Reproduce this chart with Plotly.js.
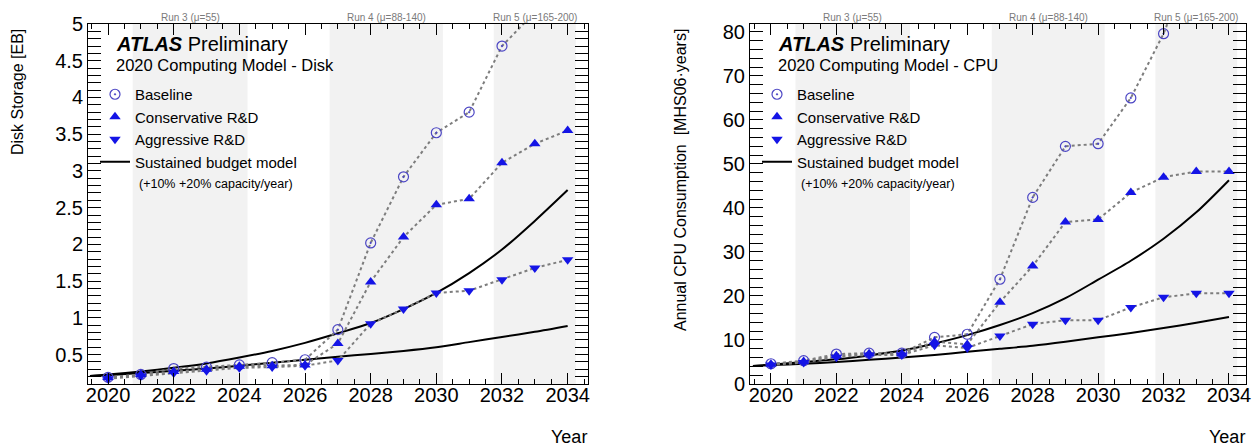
<!DOCTYPE html>
<html>
<head>
<meta charset="utf-8">
<script src="https://cdn.plot.ly/plotly-3.0.1.min.js"></script>
<style>
  html, body { margin: 0; padding: 0; background: #ffffff; }
  #chart { width: 1256px; height: 448px; }
</style>
</head>
<body>
<div id="chart"></div>
<script>
// ---------------- data ----------------
const years = [2020, 2021, 2022, 2023, 2024, 2025, 2026, 2027, 2028, 2029, 2030, 2031, 2032, 2033, 2034];

const diskBaseline     = [0.19, 0.23, 0.31, 0.33, 0.36, 0.39, 0.43, 0.84, 2.02, 2.92, 3.52, 3.80, 4.70, 5.16, 5.60];
const diskConservative = [0.19, 0.23, 0.27, 0.30, 0.34, 0.35, 0.36, 0.65, 1.49, 2.10, 2.54, 2.62, 3.11, 3.37, 3.55];
const diskAggressive   = [0.17, 0.21, 0.25, 0.28, 0.32, 0.33, 0.35, 0.42, 0.92, 1.12, 1.34, 1.37, 1.52, 1.68, 1.79];

const cpuBaseline      = [4.6, 5.3, 6.8, 7.0, 7.0, 10.6, 11.3, 23.8, 42.4, 54.0, 54.6, 65.0, 79.6, 100, 118];
const cpuConservative  = [4.5, 5.1, 6.4, 6.9, 6.9, 9.6, 9.0, 18.6, 26.8, 36.8, 37.4, 43.5, 47.0, 48.3, 48.3];
const cpuAggressive    = [4.3, 4.9, 6.1, 6.6, 6.6, 8.8, 8.2, 10.9, 13.6, 14.5, 14.5, 17.4, 19.7, 20.6, 20.6];

const budgetYears  = [2019.45, 2020, 2021, 2022, 2023, 2024, 2025, 2026, 2027, 2028, 2029, 2030, 2031, 2032, 2033, 2034];
const diskBudget10 = [0.21, 0.22, 0.25, 0.28, 0.31, 0.35, 0.39, 0.43, 0.47, 0.51, 0.55, 0.60, 0.67, 0.74, 0.81, 0.89];
const diskBudget20 = [0.21, 0.23, 0.27, 0.32, 0.38, 0.46, 0.55, 0.66, 0.79, 0.93, 1.12, 1.34, 1.61, 1.93, 2.32, 2.74];
const cpuBudget10  = [4.1, 4.3, 4.6, 5.0, 5.5, 6.0, 6.6, 7.3, 8.0, 8.7, 9.6, 10.6, 11.6, 12.7, 13.9, 15.2];
const cpuBudget20  = [4.1, 4.4, 5.0, 5.6, 6.5, 7.6, 9.2, 11.1, 13.4, 16.1, 19.5, 23.7, 28.0, 33.0, 39.0, 46.3];

const runLabels = ['Run 3 (\u03bc=55)', 'Run 4 (\u03bc=88-140)', 'Run 5 (\u03bc=165-200)'];
const runStart  = [2020.75, 2026.75, 2031.75];
const runEnd    = [2024.25, 2030.2, 2034.25];

const seriesNames = ['Baseline', 'Conservative R&D', 'Aggressive R&D', 'Sustained budget model'];
const budgetNote  = '(+10% +20% capacity/year)';
const panelSubtitles = ['2020 Computing Model - Disk', '2020 Computing Model - CPU'];
const yTitles = ['Disk Storage [EB]', 'Annual CPU Consumption  [MHS06\u00b7years]'];
const xTitle = 'Year';

// ---------------- styling ----------------
const W = 1256, H = 448;
const FONT = 'Liberation Sans, Arial, Helvetica, sans-serif';
const px = v => v / W;
const py = v => 1 - v / H;

const panels = [
  { xa: 'x', ya: 'y', xl: 'x3', left: 88, right: 588, xr: [2019.39, 2034.62], yr: [0.1, 5.0], ydt: 0.5, ymdt: 0.1,
    data: [diskBaseline, diskConservative, diskAggressive], budget: [diskBudget10, diskBudget20], legend: 'legend' },
  { xa: 'x2', ya: 'y2', xl: 'x4', left: 750, right: 1246, xr: [2019.36, 2034.52], yr: [0, 81.8], ydt: 10, ymdt: 2,
    data: [cpuBaseline, cpuConservative, cpuAggressive], budget: [cpuBudget10, cpuBudget20], legend: 'legend2' }
];
const plotTop = 24, plotBottom = 384;

const markerStyles = [
  { symbol: 'circle-open-dot', size: 10, color: '#4b45c4', line: { width: 1.2, color: '#4b45c4' } },
  { symbol: 'triangle-up', size: 10, color: '#1414e6', line: { width: 0 } },
  { symbol: 'triangle-down', size: 10, color: '#1414e6', line: { width: 0 } }
];

const traces = [];
const shapes = [];
const annotations = [];
const layout = {
  width: W, height: H,
  margin: { l: 0, r: 0, t: 0, b: 0 },
  paper_bgcolor: '#ffffff', plot_bgcolor: 'rgba(0,0,0,0)',
  font: { family: FONT, color: '#000' },
  showlegend: true
};

panels.forEach((p, i) => {
  const sfx = i === 0 ? '' : '2';
  const lsfx = p.xl.slice(1);
  // budget curves
  p.budget.forEach((b, k) => {
    traces.push({
      x: budgetYears, y: b, xaxis: p.xa, yaxis: p.ya, type: 'scatter', mode: 'lines',
      line: { color: '#000', width: 2, shape: 'spline', smoothing: 0.8 },
      name: seriesNames[3], legend: p.legend,
      showlegend: k === 0, legendrank: 4, hoverinfo: 'skip'
    });
  });
  // dotted connectors
  p.data.forEach(d => {
    traces.push({
      x: years, y: d, xaxis: p.xa, yaxis: p.ya, type: 'scatter', mode: 'lines',
      line: { color: '#7d7d7d', width: 2, dash: 'dot' }, showlegend: false, hoverinfo: 'skip', cliponaxis: true
    });
  });
  // markers
  p.data.forEach((d, k) => {
    traces.push({
      x: years, y: d, xaxis: p.xa, yaxis: p.ya, type: 'scatter', mode: 'markers',
      marker: markerStyles[k], name: seriesNames[k], legend: p.legend, legendrank: k + 1,
      cliponaxis: true
    });
  });
  // empty trace binding the tick-label axis
  traces.push({ x: [], y: [], xaxis: p.xl, yaxis: p.ya, type: 'scatter', mode: 'markers', showlegend: false, hoverinfo: 'skip' });

  const axisCommon = {
    showline: true, linecolor: '#000', linewidth: 1, mirror: 'allticks',
    ticks: 'inside', tickcolor: '#000', showgrid: false, zeroline: false,
    tickfont: { size: 20, family: FONT, color: '#000' }, fixedrange: true
  };
  layout['xaxis' + sfx] = Object.assign({}, axisCommon, {
    domain: [px(p.left), px(p.right)], range: p.xr, anchor: 'y' + sfx,
    tick0: 2020, dtick: 2, ticklen: 11, tickwidth: 1, showticklabels: false,
    minor: { dtick: 0.5, tick0: 2020, ticklen: 5, ticks: 'inside', tickcolor: '#000', showgrid: false }
  });
  // axis carrying only the year tick labels, set slightly closer to the frame
  layout['xaxis' + lsfx] = {
    overlaying: p.xa, anchor: 'free', position: py(plotBottom - 3), range: p.xr,
    showline: false, ticks: '', showgrid: false, zeroline: false, fixedrange: true,
    tick0: 2020, dtick: 2, tickfont: { size: 20, family: FONT, color: '#000' }
  };
  layout['yaxis' + sfx] = Object.assign({}, axisCommon, {
    domain: [py(plotBottom), py(plotTop)], range: p.yr, anchor: 'x' + sfx,
    tick0: 0, dtick: p.ydt, ticklen: 13, tickwidth: 1,
    minor: { dtick: p.ymdt, tick0: 0, ticklen: 7, ticks: 'inside', tickcolor: '#000', showgrid: false }
  });

  // run bands and labels
  runLabels.forEach((lab, r) => {
    shapes.push({
      type: 'rect', xref: p.xa, yref: p.ya + ' domain', x0: runStart[r], x1: runEnd[r], y0: 0, y1: 1,
      fillcolor: '#f2f2f2', line: { width: 0 }, layer: 'below'
    });
    annotations.push({
      xref: p.xa, yref: 'paper', x: (runStart[r] + runEnd[r]) / 2, y: py(17),
      text: lab, showarrow: false, xanchor: 'center', yanchor: 'middle',
      font: { size: 10, color: '#7a7a7a', family: FONT }
    });
  });

  // ATLAS label and subtitle
  annotations.push({
    xref: 'paper', yref: 'paper', x: px(p.left + 26), y: py(44), xanchor: 'left', yanchor: 'middle',
    text: '<b><i>ATLAS</i></b> Preliminary', showarrow: false, font: { size: 20, family: FONT, color: '#000' }
  });
  annotations.push({
    xref: 'paper', yref: 'paper', x: px(p.left + 26), y: py(65), xanchor: 'left', yanchor: 'middle',
    text: panelSubtitles[i], showarrow: false, font: { size: 16.5, family: FONT, color: '#000' }
  });
  annotations.push({
    xref: 'paper', yref: 'paper', x: px(p.left + 49), y: py(184), xanchor: 'left', yanchor: 'middle',
    text: budgetNote, showarrow: false, font: { size: 12.5, family: FONT, color: '#000' }
  });
  // y title
  const yt = i === 0 ? { x: 18, yc: 92 } : { x: 680, yc: 180 };
  annotations.push({
    xref: 'paper', yref: 'paper', x: px(yt.x), y: py(yt.yc), xanchor: 'center', yanchor: 'middle',
    text: yTitles[i], textangle: -90, showarrow: false, font: { size: 16, family: FONT, color: '#000' }
  });
  // x title
  annotations.push({
    xref: 'paper', yref: 'paper', x: px(p.right + 1), y: py(437), xanchor: 'right', yanchor: 'middle',
    text: xTitle, showarrow: false, font: { size: 18, family: FONT, color: '#000' }
  });

  layout[p.legend] = {
    x: px(p.left + 7), y: py(78), xanchor: 'left', yanchor: 'top',
    bgcolor: 'rgba(0,0,0,0)', borderwidth: 0, traceorder: 'normal',
    font: { size: 15, family: FONT, color: '#000' }, tracegroupgap: 0, itemclick: false, itemdoubleclick: false
  };
});

layout.shapes = shapes;
layout.annotations = annotations;

Plotly.newPlot('chart', traces, layout, { displayModeBar: false, staticPlot: true });
</script>
</body>
</html>
